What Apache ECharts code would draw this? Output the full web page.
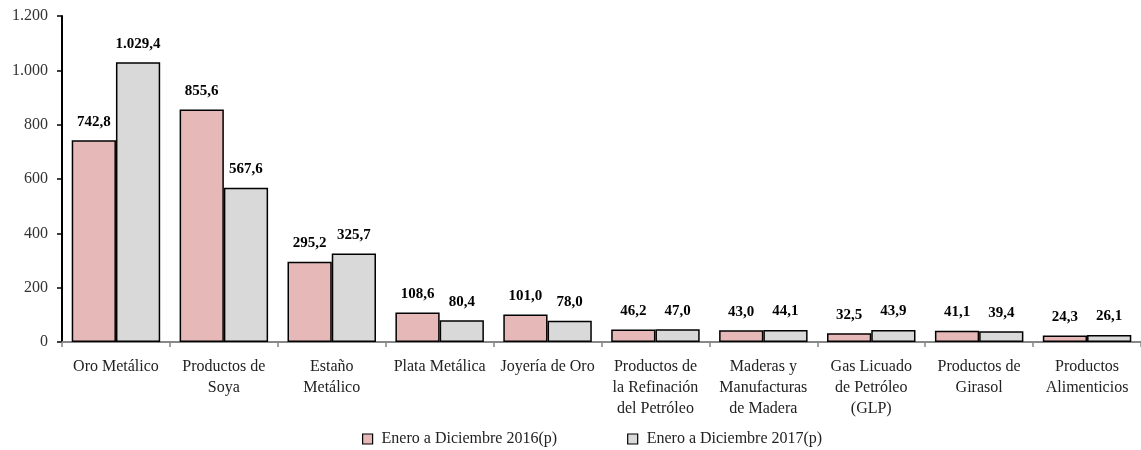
<!DOCTYPE html>
<html>
<head>
<meta charset="utf-8">
<script src="https://cdn.jsdelivr.net/npm/echarts@6/dist/echarts.min.js"></script>
<style>
  html, body { margin: 0; padding: 0; background: #fff; }
  #chart { width: 1141px; height: 450px; }
</style>
</head>
<body>
<div id="chart"></div>
<script>
const categories = [
  'Oro Metálico',
  'Productos de\nSoya',
  'Estaño\nMetálico',
  'Plata Metálica',
  'Joyería de Oro',
  'Productos de\nla Refinación\ndel Petróleo',
  'Maderas y\nManufacturas\nde Madera',
  'Gas Licuado\nde Petróleo\n(GLP)',
  'Productos de\nGirasol',
  'Productos\nAlimenticios'
];
const values2016 = [742.8, 855.6, 295.2, 108.6, 101.0, 46.2, 43.0, 32.5, 41.1, 24.3];
const values2017 = [1029.4, 567.6, 325.7, 80.4, 78.0, 47.0, 44.1, 43.9, 39.4, 26.1];
const seriesNames = ['Enero a Diciembre 2016(p)', 'Enero a Diciembre 2017(p)'];

const FONT = '"Liberation Serif", "DejaVu Serif", serif';

function formatEs(value, decimals) {
  const parts = Number(value).toFixed(decimals).split('.');
  parts[0] = parts[0].replace(/\B(?=(\d{3})+(?!\d))/g, '.');
  return parts.join(',');
}

const chart = echarts.init(document.getElementById('chart'), null, { renderer: 'canvas' });

function barSeries(name, data, color) {
  return {
    name,
    type: 'bar',
    data,
    barGap: '0%',
    barCategoryGap: '18%',
    itemStyle: { color, borderColor: '#000', borderWidth: 1.5 },
    label: {
      show: true,
      position: 'top',
      distance: 11,
      fontFamily: FONT,
      fontWeight: 'bold',
      fontSize: 15,
      color: '#000',
      formatter: (p) => formatEs(p.value, 1)
    }
  };
}

chart.setOption({
  animation: false,
  textStyle: { fontFamily: FONT },
  grid: { left: 62, right: -4, top: 16, bottom: 108 },
  legend: {
    top: 431,
    left: 362,
    padding: 0,
    itemWidth: 10,
    itemHeight: 10,
    itemGap: 70,
    icon: 'rect',
    itemStyle: { borderColor: '#000', borderWidth: 1.2 },
    textStyle: { fontFamily: FONT, fontSize: 16, color: '#222', padding: [0, 0, 0, 4] },
    data: seriesNames
  },
  xAxis: {
    type: 'category',
    data: categories,
    axisLine: { lineStyle: { color: '#888', width: 2 } },
    axisTick: { show: true, length: 5, lineStyle: { color: '#888', width: 1.5 } },
    axisLabel: {
      interval: 0,
      margin: 14,
      fontFamily: FONT,
      fontSize: 16,
      lineHeight: 21,
      color: '#222'
    }
  },
  yAxis: {
    type: 'value',
    min: 0,
    max: 1200,
    interval: 200,
    axisLine: { show: true, lineStyle: { color: '#000', width: 2 } },
    axisTick: { show: true, length: 5, lineStyle: { color: '#000', width: 1.5 } },
    splitLine: { show: false },
    axisLabel: {
      margin: 14,
      fontFamily: FONT,
      fontSize: 16,
      color: '#333',
      formatter: (v) => formatEs(v, 0)
    }
  },
  series: [
    barSeries(seriesNames[0], values2016, '#E6B8B7'),
    barSeries(seriesNames[1], values2017, '#D9D9D9')
  ]
});
</script>
</body>
</html>
